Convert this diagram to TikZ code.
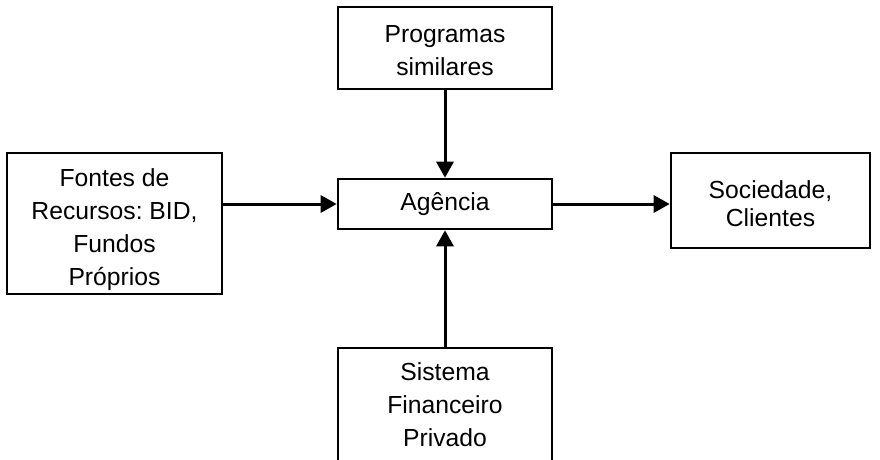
\documentclass[tikz,border=0pt]{standalone}
\usepackage{fontspec}
\setmainfont{Liberation Sans}
\usetikzlibrary{arrows.meta}
\frenchspacing
\begin{document}
\begin{tikzpicture}[x=1pt,y=-1pt,
  boxnode/.style={draw=black,line width=2.6pt,inner sep=0pt,fill=white},
  txt/.style={inner sep=0pt,align=center,anchor=north,font=\fontsize{24.7pt}{33pt}\selectfont},
  flow/.style={line width=3pt,-{Triangle[length=16pt,width=17pt]}}]
\useasboundingbox (0,0) rectangle (880,459);
% boxes
\node[boxnode,minimum width=214pt,minimum height=82pt] (prog) at (445,48) {};
\node[boxnode,minimum width=214pt,minimum height=50pt,font=\fontsize{24.7pt}{33pt}\selectfont] (ag) at (445,204) {Agência};
\node[boxnode,minimum width=215pt,minimum height=141pt] (font) at (114.5,223.5) {};
\node[boxnode,minimum width=199pt,minimum height=95pt] (soc) at (770.5,200.5) {};
\node[boxnode,minimum width=214pt,minimum height=140pt] (sis) at (445,418) {};
% texts
\node[txt] (progt) at (445,25) {\rule{0pt}{17.7pt}Programas\\similares};
\node[txt] (fontt) at (114.5,168.7) {\rule{0pt}{17.7pt}Fontes de\\Recursos: BID,\\Fundos\\Próprios};
\node[txt,font=\fontsize{24.7pt}{28pt}\selectfont] (soct) at (770.5,180) {\rule{0pt}{17.7pt}Sociedade,\\Clientes};
\node[txt] (sist) at (445,362) {\rule{0pt}{17.7pt}Sistema\\Financeiro\\Privado};
% connectors
\draw[flow] (prog.south) -- (ag.north);
\draw[flow] (font.east |- ag.west) -- (ag.west);
\draw[flow] (ag.east) -- (soc.west |- ag.east);
\draw[flow] (sis.north) -- (ag.south);
\end{tikzpicture}
\end{document}
